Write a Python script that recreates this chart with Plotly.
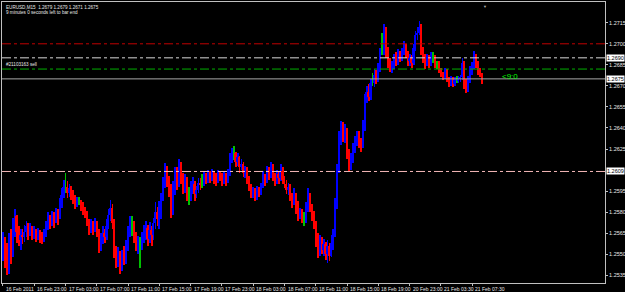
import plotly.graph_objects as go

# ---------------- data (EURUSD, M15) ----------------
first_open = 1.2555

closes = [
    1.2560, 1.2550, 1.2545, 1.2555, 1.2548, 1.2570, 1.2577, 1.2566, 1.2560, 1.2564, 1.2562, 1.2566, 1.2570, 1.2565, 1.2568, 1.2564,
    1.2565, 1.2562, 1.2566, 1.2563, 1.2561, 1.2564, 1.2570, 1.2575, 1.2572, 1.2576, 1.2574, 1.2579, 1.2576, 1.2583, 1.2592, 1.2598,
    1.2598, 1.2594, 1.2597, 1.2593, 1.2589, 1.2586, 1.2588, 1.2588, 1.2584, 1.2582, 1.2579, 1.2573, 1.2568, 1.2571, 1.2568, 1.2572,
    1.2566, 1.2556, 1.2560, 1.2565, 1.2562, 1.2570, 1.2578, 1.2583, 1.2572, 1.2552, 1.2545, 1.2550, 1.2540, 1.2548, 1.2545, 1.2555,
    1.2565, 1.2572, 1.2572, 1.2562, 1.2556, 1.2558, 1.2558, 1.2560, 1.2566, 1.2569, 1.2561, 1.2567, 1.2564, 1.2572, 1.2580, 1.2575,
    1.2582, 1.2590, 1.2600, 1.2610, 1.2602, 1.2596, 1.2580, 1.2595, 1.2606, 1.2600, 1.2610, 1.2605, 1.2598, 1.2603, 1.2593, 1.2593,
    1.2596, 1.2600, 1.2593, 1.2596, 1.2601, 1.2600, 1.2600, 1.2606, 1.2603, 1.2607, 1.2604, 1.2608, 1.2605, 1.2603, 1.2607, 1.2605,
    1.2602, 1.2605, 1.2603, 1.2608, 1.2618, 1.2622, 1.2622, 1.2616, 1.2619, 1.2612, 1.2614, 1.2608, 1.2610, 1.2603, 1.2598, 1.2593,
    1.2595, 1.2590, 1.2596, 1.2593, 1.2598, 1.2605, 1.2602, 1.2609, 1.2606, 1.2611, 1.2605, 1.2602, 1.2607, 1.2604, 1.2609, 1.2603,
    1.2600, 1.2596, 1.2598, 1.2591, 1.2587, 1.2592, 1.2584, 1.2578, 1.2580, 1.2575, 1.2575, 1.2582, 1.2592, 1.2584, 1.2578, 1.2572,
    1.2560, 1.2552, 1.2558, 1.2553, 1.2557, 1.2550, 1.2556, 1.2549, 1.2558, 1.2565, 1.2585, 1.2610, 1.2632, 1.2640, 1.2634, 1.2638,
    1.2622, 1.2613, 1.2618, 1.2626, 1.2631, 1.2635, 1.2630, 1.2626, 1.2640, 1.2660, 1.2666, 1.2662, 1.2672, 1.2672, 1.2678, 1.2675,
    1.2683, 1.2694, 1.2694, 1.2710, 1.2696, 1.2686, 1.2682, 1.2684, 1.2690, 1.2687, 1.2693, 1.2690, 1.2694, 1.2699, 1.2693, 1.2688,
    1.2690, 1.2686, 1.2697, 1.2706, 1.2708, 1.2712, 1.2696, 1.2690, 1.2686, 1.2690, 1.2687, 1.2691, 1.2691, 1.2686, 1.2686, 1.2681,
    1.2678, 1.2676, 1.2680, 1.2675, 1.2672, 1.2674, 1.2671, 1.2674, 1.2674, 1.2675, 1.2676, 1.2686, 1.2672, 1.2667, 1.2674, 1.2680,
    1.2684, 1.2690, 1.2686, 1.2681, 1.2679, 1.2675,
]

highs = [
    1.2566, 1.2562, 1.2558, 1.2565, 1.2568, 1.2576, 1.2582, 1.2578, 1.2570, 1.2568, 1.2568, 1.2571, 1.2574, 1.2572, 1.2572, 1.2570,
    1.2570, 1.2568, 1.2569, 1.2567, 1.2566, 1.2568, 1.2574, 1.2580, 1.2578, 1.2581, 1.2580, 1.2583, 1.2582, 1.2590, 1.2597, 1.2603,
    1.2608, 1.2602, 1.2600, 1.2599, 1.2596, 1.2592, 1.2591, 1.2591, 1.2589, 1.2587, 1.2584, 1.2581, 1.2575, 1.2575, 1.2574, 1.2576,
    1.2574, 1.2568, 1.2565, 1.2570, 1.2568, 1.2575, 1.2582, 1.2589, 1.2586, 1.2575, 1.2556, 1.2555, 1.2552, 1.2553, 1.2556, 1.2560,
    1.2570, 1.2577, 1.2577, 1.2574, 1.2566, 1.2563, 1.2562, 1.2566, 1.2571, 1.2574, 1.2571, 1.2573, 1.2570, 1.2576, 1.2587, 1.2584,
    1.2588, 1.2594, 1.2605, 1.2615, 1.2613, 1.2606, 1.2600, 1.2602, 1.2612, 1.2612, 1.2618, 1.2616, 1.2608, 1.2607, 1.2605, 1.2598,
    1.2602, 1.2605, 1.2602, 1.2599, 1.2604, 1.2604, 1.2607, 1.2609, 1.2608, 1.2610, 1.2609, 1.2611, 1.2609, 1.2608, 1.2610, 1.2609,
    1.2608, 1.2609, 1.2608, 1.2611, 1.2622, 1.2626, 1.2627, 1.2623, 1.2622, 1.2620, 1.2618, 1.2616, 1.2613, 1.2612, 1.2606, 1.2600,
    1.2598, 1.2597, 1.2599, 1.2598, 1.2601, 1.2609, 1.2607, 1.2613, 1.2612, 1.2616, 1.2614, 1.2608, 1.2610, 1.2609, 1.2614, 1.2612,
    1.2606, 1.2603, 1.2601, 1.2600, 1.2594, 1.2597, 1.2594, 1.2588, 1.2583, 1.2582, 1.2580, 1.2587, 1.2597, 1.2594, 1.2586, 1.2581,
    1.2574, 1.2565, 1.2564, 1.2562, 1.2561, 1.2559, 1.2560, 1.2558, 1.2564, 1.2568, 1.2590, 1.2614, 1.2638, 1.2645, 1.2644, 1.2643,
    1.2640, 1.2625, 1.2622, 1.2629, 1.2634, 1.2638, 1.2638, 1.2633, 1.2646, 1.2664, 1.2670, 1.2671, 1.2675, 1.2679, 1.2682, 1.2681,
    1.2686, 1.2697, 1.2708, 1.2714, 1.2712, 1.2698, 1.2690, 1.2688, 1.2693, 1.2694, 1.2696, 1.2695, 1.2697, 1.2702, 1.2700, 1.2695,
    1.2693, 1.2692, 1.2700, 1.2709, 1.2712, 1.2716, 1.2714, 1.2698, 1.2693, 1.2693, 1.2692, 1.2694, 1.2694, 1.2692, 1.2688, 1.2688,
    1.2683, 1.2680, 1.2683, 1.2682, 1.2676, 1.2677, 1.2676, 1.2676, 1.2677, 1.2677, 1.2678, 1.2690, 1.2688, 1.2675, 1.2677, 1.2684,
    1.2687, 1.2695, 1.2693, 1.2688, 1.2683, 1.2679,
]

lows = [
    1.2545, 1.2540, 1.2535, 1.2536, 1.2543, 1.2548, 1.2562, 1.2558, 1.2556, 1.2553, 1.2557, 1.2559, 1.2562, 1.2560, 1.2563, 1.2560,
    1.2561, 1.2559, 1.2560, 1.2558, 1.2557, 1.2559, 1.2562, 1.2567, 1.2568, 1.2570, 1.2569, 1.2572, 1.2571, 1.2575, 1.2583, 1.2590,
    1.2594, 1.2590, 1.2591, 1.2589, 1.2586, 1.2582, 1.2584, 1.2585, 1.2581, 1.2578, 1.2576, 1.2570, 1.2564, 1.2565, 1.2564, 1.2566,
    1.2562, 1.2551, 1.2552, 1.2557, 1.2558, 1.2560, 1.2568, 1.2574, 1.2568, 1.2547, 1.2540, 1.2541, 1.2536, 1.2538, 1.2542, 1.2543,
    1.2552, 1.2562, 1.2563, 1.2558, 1.2552, 1.2550, 1.2540, 1.2553, 1.2558, 1.2560, 1.2556, 1.2558, 1.2556, 1.2560, 1.2568, 1.2570,
    1.2568, 1.2575, 1.2588, 1.2597, 1.2598, 1.2591, 1.2576, 1.2578, 1.2592, 1.2596, 1.2598, 1.2600, 1.2593, 1.2594, 1.2588, 1.2585,
    1.2588, 1.2593, 1.2588, 1.2590, 1.2594, 1.2596, 1.2597, 1.2599, 1.2600, 1.2601, 1.2601, 1.2602, 1.2600, 1.2599, 1.2601, 1.2602,
    1.2599, 1.2600, 1.2599, 1.2601, 1.2606, 1.2615, 1.2617, 1.2612, 1.2613, 1.2608, 1.2610, 1.2605, 1.2604, 1.2600, 1.2595, 1.2590,
    1.2590, 1.2588, 1.2589, 1.2591, 1.2592, 1.2597, 1.2599, 1.2601, 1.2603, 1.2604, 1.2602, 1.2599, 1.2600, 1.2600, 1.2602, 1.2600,
    1.2597, 1.2593, 1.2592, 1.2588, 1.2583, 1.2585, 1.2579, 1.2574, 1.2575, 1.2572, 1.2570, 1.2572, 1.2580, 1.2580, 1.2574, 1.2568,
    1.2555, 1.2547, 1.2549, 1.2550, 1.2549, 1.2546, 1.2544, 1.2545, 1.2548, 1.2553, 1.2562, 1.2582, 1.2608, 1.2628, 1.2630, 1.2629,
    1.2618, 1.2609, 1.2610, 1.2615, 1.2622, 1.2627, 1.2626, 1.2623, 1.2626, 1.2638, 1.2658, 1.2659, 1.2660, 1.2670, 1.2669, 1.2671,
    1.2673, 1.2680, 1.2692, 1.2692, 1.2690, 1.2683, 1.2680, 1.2679, 1.2682, 1.2684, 1.2685, 1.2687, 1.2688, 1.2692, 1.2690, 1.2684,
    1.2684, 1.2683, 1.2685, 1.2695, 1.2703, 1.2706, 1.2692, 1.2686, 1.2682, 1.2684, 1.2683, 1.2684, 1.2686, 1.2683, 1.2682, 1.2679,
    1.2676, 1.2674, 1.2675, 1.2673, 1.2669, 1.2670, 1.2669, 1.2670, 1.2672, 1.2672, 1.2673, 1.2674, 1.2668, 1.2665, 1.2666, 1.2672,
    1.2678, 1.2682, 1.2683, 1.2678, 1.2676, 1.2671,
]

time_labels = ["16 Feb 2011", "16 Feb 23:00", "17 Feb 03:00", "17 Feb 07:00", "17 Feb 11:00",
               "17 Feb 15:00", "17 Feb 19:00", "17 Feb 23:00", "18 Feb 03:00", "18 Feb 07:00",
               "18 Feb 11:00", "18 Feb 15:00", "18 Feb 19:00", "20 Feb 23:00", "21 Feb 03:30",
               "21 Feb 07:30"]
time_label_bars = [0, 16, 32, 48, 64, 80, 96, 112, 128, 144, 160, 176, 192, 208, 224, 240]

price_ticks = [1.2535, 1.2550, 1.2565, 1.2580, 1.2595, 1.2625, 1.2640, 1.2655,
               1.2670, 1.2685, 1.2700, 1.2715, 1.2730]

level_prices = [1.2700, 1.2690, 1.2682, 1.2609]
level_colors = ["#C00000", "#D8D8D8", "#00B000", "#F4B8B8"]
bid_price = 1.2675
marked_prices = [1.2690, 1.2675, 1.2609]

title_text = "EURUSD,M15  1.2679 1.2679 1.2671 1.2675"
timer_text = "9 minutes 0 seconds left to bar end"
order_text = "#21103163 sell"
order_price = 1.2682
countdown_text = "<9:0"

# ---------------- figure ----------------
n = len(closes)
idx = list(range(n))
opens = [first_open] + closes[:-1]

UP, DOWN, DOJI = "#0000FF", "#FF0000", "#00C000"
colors = [UP if c > o else (DOWN if c < o else DOJI) for o, c in zip(opens, closes)]

wick_lo = [min(l, o, c) for l, o, c in zip(lows, opens, closes)]
wick_hi = [max(h, o, c) for h, o, c in zip(highs, opens, closes)]
body_lo = [min(o, c) for o, c in zip(opens, closes)]
body_h = [abs(c - o) for o, c in zip(opens, closes)]

fig = go.Figure()
fig.add_trace(go.Bar(x=idx, y=[h - l for h, l in zip(wick_hi, wick_lo)], base=wick_lo,
                     width=0.45, marker=dict(color=colors, line=dict(width=0)),
                     hoverinfo="skip"))
fig.add_trace(go.Bar(x=idx, y=body_h, base=body_lo,
                     width=0.7, marker=dict(color=colors, line=dict(width=0)),
                     hoverinfo="skip"))

shapes = []
for p, col in zip(level_prices, level_colors):
    shapes.append(dict(type="line", xref="paper", x0=0, x1=1, yref="y", y0=p, y1=p,
                       line=dict(color=col, width=1, dash="dashdot")))
shapes.append(dict(type="line", xref="paper", x0=0, x1=1, yref="y", y0=bid_price, y1=bid_price,
                   line=dict(color="#A8A8A8", width=1)))

FONT = "Liberation Sans, Arial, sans-serif"
annotations = []
for p in marked_prices:
    annotations.append(dict(xref="paper", x=1, xanchor="left", xshift=1, yref="y", y=p,
                            yanchor="middle", text=f"{p:.4f}", showarrow=False,
                            font=dict(family=FONT, size=5.5, color="black"),
                            bgcolor="white", borderpad=0))
for b, t in zip(time_label_bars, time_labels):
    annotations.append(dict(xref="x", x=b, xanchor="left", xshift=1, yref="paper", y=0,
                            yanchor="top", yshift=-1, text=t, showarrow=False,
                            font=dict(family=FONT, size=5, color="#E8E8E8")))
annotations.append(dict(xref="paper", x=0, xanchor="left", xshift=2, yref="paper", y=1,
                        yanchor="top", yshift=-1, text=title_text, showarrow=False,
                        font=dict(family=FONT, size=4.6, color="#E8E8E8")))
annotations.append(dict(xref="paper", x=0, xanchor="left", xshift=2, yref="paper", y=1,
                        yanchor="top", yshift=-6, text=timer_text, showarrow=False,
                        font=dict(family=FONT, size=4.6, color="#E8E8E8")))
annotations.append(dict(xref="paper", x=0, xanchor="left", xshift=2, yref="y", y=order_price,
                        yanchor="bottom", yshift=0, text=order_text, showarrow=False,
                        font=dict(family=FONT, size=4.6, color="#E8E8E8")))
annotations.append(dict(xref="x", x=254, xanchor="left", yref="y", y=1.26765,
                        yanchor="middle", text=countdown_text, showarrow=False,
                        font=dict(family=FONT, size=8, color="#00FF00")))
annotations.append(dict(xref="x", x=n + 0.5, xanchor="center", yref="paper", y=1,
                        yanchor="top", text="▼", showarrow=False,
                        font=dict(family=FONT, size=4, color="#B0B0B0")))

fig.update_layout(
    width=625, height=292,
    margin=dict(l=2, r=20, t=2, b=9),
    paper_bgcolor="black", plot_bgcolor="black",
    barmode="overlay", bargap=0, showlegend=False,
    shapes=shapes, annotations=annotations,
    xaxis=dict(range=[-0.5, 307.9], tickmode="array", tickvals=time_label_bars,
               showticklabels=False, ticks="outside", ticklen=2, tickcolor="#C0C0C0",
               showgrid=False, zeroline=False, showline=True, mirror=True,
               linecolor="#C0C0C0", linewidth=1, automargin=False, fixedrange=True),
    yaxis=dict(range=[1.25295, 1.27298], side="right", tickmode="array",
               tickvals=price_ticks, ticktext=[f"{p:.4f}" for p in price_ticks],
               ticks="outside", ticklen=2, tickcolor="#C0C0C0",
               tickfont=dict(family=FONT, size=5.5, color="#E8E8E8"),
               showgrid=False, zeroline=False, showline=True, mirror=True,
               linecolor="#C0C0C0", linewidth=1, automargin=False, fixedrange=True),
)

fig.write_html("out.html", config={"displayModeBar": False})
